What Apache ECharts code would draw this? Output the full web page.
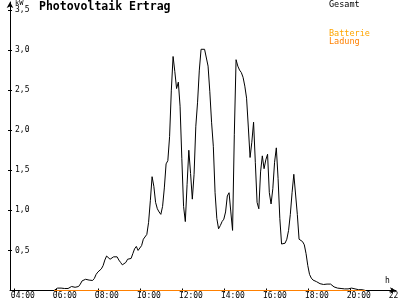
<!DOCTYPE html>
<html>
<head>
<meta charset="utf-8">
<script src="https://cdn.jsdelivr.net/npm/echarts@6/dist/echarts.min.js"></script>
<style>html,body{margin:0;padding:0;background:#fff}#c{width:400px;height:300px}</style>
</head>
<body>
<div id="c"></div>
<script>
// ---- data ----
const titleText = 'Photovoltaik Ertrag';
const seriesNames = ['Gesamt', 'Batterie Ladung'];
const gesamtStart = '05:55';
const gesamtStepMin = 5;
const gesamt = [
  0, 0.02, 0.03, 0.03, 0.03, 0.03, 0.025, 0.025, 0.025, 0.04,
  0.05, 0.045, 0.04, 0.05, 0.05, 0.08, 0.12, 0.135, 0.14, 0.135,
  0.13, 0.125, 0.125, 0.15, 0.2, 0.23, 0.25, 0.27, 0.31, 0.38,
  0.43, 0.42, 0.39, 0.38, 0.42, 0.43, 0.42, 0.38, 0.35, 0.32,
  0.30, 0.35, 0.39, 0.41, 0.40, 0.46, 0.52, 0.55, 0.50, 0.48,
  0.56, 0.64, 0.66, 0.70, 0.85, 1.12, 1.42, 1.30, 1.10, 1.02,
  0.98, 0.95, 1.05, 1.28, 1.58, 1.62, 1.92, 2.50, 2.92, 2.73,
  2.52, 2.60, 2.30, 1.65, 1.05, 0.86, 1.32, 1.75, 1.46, 1.14,
  1.45, 2.05, 2.35, 2.75, 3.01, 3.01, 3.01, 3.01, 2.80, 2.48,
  2.10, 1.80, 1.22, 0.90, 0.77, 0.81, 0.86, 0.89, 0.98, 1.18,
  1.22, 0.98, 0.75, 1.95, 2.88, 2.80, 2.75, 2.72, 2.66, 2.55,
  2.40, 2.04, 1.66, 1.85, 2.10, 1.60, 1.10, 1.02, 1.48, 1.68,
  1.52, 1.63, 1.70, 1.22, 1.08, 1.27, 1.60, 1.78, 1.40, 0.90,
  0.58, 0.56, 0.59, 0.64, 0.75, 0.95, 1.22, 1.45, 1.47, 0.95,
  0.64, 0.62, 0.61, 0.57, 0.46, 0.31, 0.20, 0.155, 0.13, 0.12,
  0.11, 0.10, 0.085, 0.075, 0.075, 0.075, 0.08, 0.08, 0.08, 0.06,
  0.045, 0.035, 0.03, 0.03, 0.025, 0.02, 0.02, 0.02, 0.02, 0.025,
  0.03, 0.02, 0.02, 0.015, 0.01, 0.01, 0.01, 0.01, 0
];
const batterieTimes = ['05:55', '20:45'];
const batterieValues = [0, 0];
const xTickLabels = ['04:00', '06:00', '08:00', '10:00', '12:00', '14:00', '16:00', '18:00', '20:00', '22:00'];
const yTickValues = [0.5, 1.0, 1.5, 2.0, 2.5, 3.0, 3.5];
const yTickLabels = ['0,5', '1,0', '1,5', '2,0', '2,5', '3,0', '3,5'];

// ---- helpers ----
const toMin = s => { const p = s.split(':'); return (+p[0]) * 60 + (+p[1]); };
const g0 = toMin(gesamtStart);
const gesamtData = gesamt.map((v, i) => [g0 + i * gesamtStepMin, v]);
const batterieData = batterieTimes.map((t, i) => [toMin(t), batterieValues[i]]);
const xTickVals = xTickLabels.map(toMin);

const X_MIN = 229, X_MAX = 1332;
const GRID = { left: 10, right: 4, top: 2, bottom: 9.5, containLabel: false, outerBoundsMode: 'none' };
const pxPerMin = (400 - GRID.left - GRID.right) / (X_MAX - X_MIN);
const labelShift = 3 / pxPerMin; // labels start slightly left of tick
const FONT = 'DejaVu Sans Mono';

const chart = echarts.init(document.getElementById('c'), null, { renderer: 'canvas' });
chart.setOption({
  animation: false,
  backgroundColor: '#ffffff',
  title: {
    text: titleText, left: 39, top: 1, padding: 0,
    textStyle: { fontFamily: FONT, fontSize: 11.5, fontWeight: 'bold', color: '#000' }
  },
  legend: {
    orient: 'vertical', left: 324, top: 0, padding: 0,
    icon: 'none', itemWidth: 0, itemHeight: 8, itemGap: 20,
    selectedMode: false,
    data: seriesNames,
    formatter: n => n === 'Gesamt' ? '{g|Gesamt}' : '{a|Batterie}\n{b|Ladung}',
    textStyle: {
      fontFamily: FONT, fontSize: 8.5,
      rich: {
        g: { color: '#000', fontFamily: FONT, fontSize: 8.5, lineHeight: 8 },
        a: { color: '#ffa500', fontFamily: FONT, fontSize: 8.5, lineHeight: 8 },
        b: { color: '#ff8000', fontFamily: FONT, fontSize: 8.5, lineHeight: 8 }
      }
    }
  },
  grid: GRID,
  xAxis: [{
    type: 'value', min: X_MIN, max: X_MAX,
    axisLine: { show: true, symbol: ['none', 'arrow'], symbolSize: [5, 6], lineStyle: { color: '#000', width: 1 } },
    axisTick: { show: true, inside: false, length: 2, customValues: xTickVals, lineStyle: { color: '#000' } },
    axisLabel: {
      show: true, customValues: xTickVals.map(v => v - labelShift), align: 'left', margin: 1,
      hideOverlap: false,
      fontFamily: FONT, fontSize: 8, color: '#000',
      formatter: v => { const i = xTickVals.indexOf(Math.round(v + labelShift)); return i >= 0 ? xTickLabels[i] : ''; }
    },
    splitLine: { show: false }
  }, {
    type: 'value', min: X_MIN, max: X_MAX, position: 'bottom',
    axisLine: { show: false },
    axisTick: { show: true, inside: true, length: 2, customValues: xTickVals, lineStyle: { color: '#000' } },
    axisLabel: { show: false },
    splitLine: { show: false }
  }],
  yAxis: [{
    type: 'value', min: 0, max: 3.6,
    axisLine: { show: true, symbol: ['none', 'arrow'], symbolSize: [5, 6], lineStyle: { color: '#000', width: 1 } },
    axisTick: { show: true, inside: false, length: 2, customValues: yTickValues, lineStyle: { color: '#000' } },
    axisLabel: {
      show: true, inside: true, margin: 5, customValues: yTickValues,
      fontFamily: FONT, fontSize: 8, color: '#000',
      formatter: v => { const i = yTickValues.findIndex(t => Math.abs(t - v) < 1e-6); return i >= 0 ? yTickLabels[i] : ''; }
    },
    splitLine: { show: false }
  }, {
    type: 'value', min: 0, max: 3.6, position: 'left',
    axisLine: { show: false },
    axisTick: { show: true, inside: true, length: 2, customValues: yTickValues, lineStyle: { color: '#000' } },
    axisLabel: { show: false },
    splitLine: { show: false }
  }],
  graphic: [
    { type: 'text', left: 15, top: 0, style: { text: 'kW', fontFamily: FONT, fontSize: 7, fill: '#000' } },
    { type: 'text', left: 385, top: 277, style: { text: 'h', fontFamily: FONT, fontSize: 8, fill: '#000' } }
  ],
  series: [{
    name: seriesNames[0], type: 'line', data: gesamtData,
    showSymbol: false, symbol: 'none', smooth: false,
    lineStyle: { color: '#000', width: 1 }, itemStyle: { color: '#000' }, z: 2
  }, {
    name: seriesNames[1], type: 'line', data: batterieData,
    showSymbol: false, symbol: 'none',
    lineStyle: { color: '#ff8000', width: 1 }, itemStyle: { color: '#ff8000' }, z: 3
  }]
});
</script>
</body>
</html>
